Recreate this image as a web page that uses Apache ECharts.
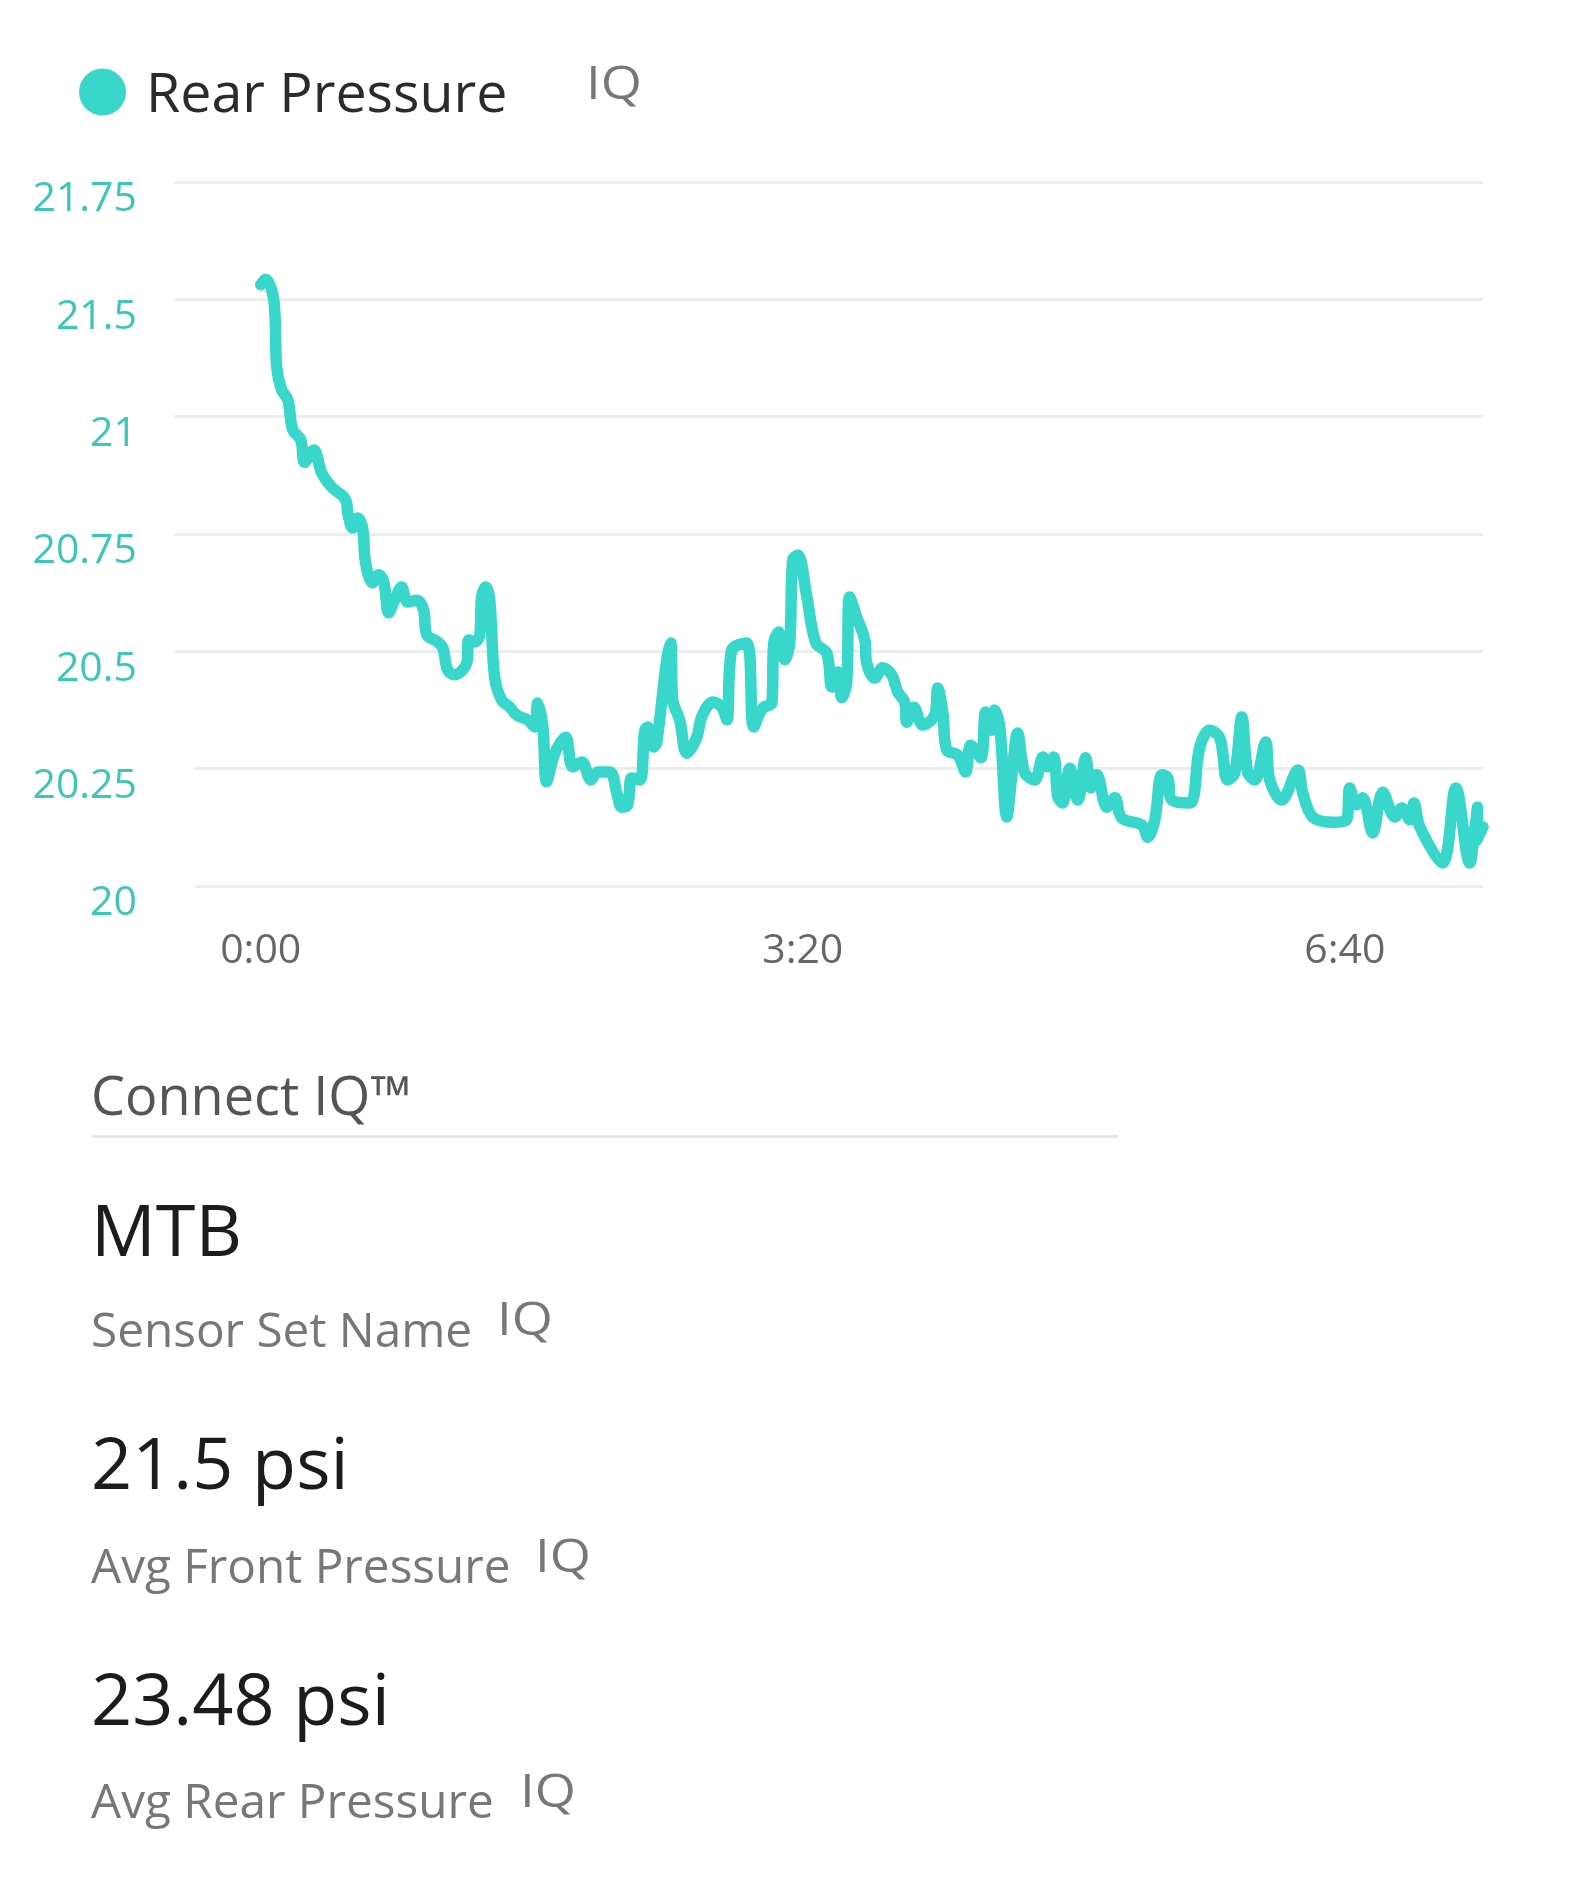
<!DOCTYPE html>
<html>
<head>
<meta charset="utf-8">
<title>Rear Pressure</title>
<script src="https://cdn.jsdelivr.net/npm/echarts@6/dist/echarts.min.js"></script>
<style>
  html, body { margin: 0; padding: 0; background: #fff; }
  #chart { width: 1590px; height: 1886px; }
</style>
</head>
<body>
<div id="chart"></div>
<script>
// printed tick labels, bottom to top. gridlines are evenly spaced even though
// the printed numbers are not, so values below are read on the evenly spaced scale
const yTickLabels = ['20', '20.25', '20.5', '20.75', '21', '21.5', '21.75'];
const xTickSeconds = [0, 200, 400];

const seconds = [
  0, 1.8, 4.8, 5.9, 7.7, 10, 11.8, 14.8, 16.2, 19.6, 22.5, 26.2, 30.6, 31.7, 32.1, 33.9, 35.8, 37.6, 38.7, 41.3,
  43.5, 45.4, 47.2, 49.4, 52, 54.2, 57.6, 60.1, 61.3, 65.3, 67.2, 69, 71.6, 76, 76.8, 79, 80.8, 81.5, 83, 84.5,
  86.3, 88.9, 91.9, 94.5, 98.5, 101.1, 102.2, 104.1, 105.5, 108.5, 112.5, 115.1, 118.5, 121.8, 124.4, 128.8, 131.4, 133.2, 135.4, 136.9,
  139.9, 141.7, 142.8, 145, 146.1, 149.8, 151.3, 152, 154.6, 157.2, 160.9, 162.7, 166.8, 170.1, 172, 173.8, 179.3, 181.9, 185.2, 188.6,
  189.3, 191.1, 193.4, 195.2, 196.3, 198.2, 201.5, 204.8, 208.9, 210.7, 212.9, 214.4, 216.2, 217.3, 219.9, 222.9, 223.6, 226.6, 229.5, 232.8,
  235.1, 237.6, 238.4, 241, 244.3, 248.7, 249.8, 251.7, 253.1, 257.2, 260.1, 262, 265.7, 267.5, 269.7, 270.8, 272.7, 275.3, 277.1, 279.3,
  281.9, 285.6, 288.6, 290.4, 292.6, 294.1, 295.9, 298.5, 301.5, 304.4, 306.3, 308.5, 312.2, 315.1, 317.7, 325.1, 327.3, 329.9, 332.5, 334.7,
  336.2, 342.8, 346.5, 350.2, 353.9, 356.8, 359.4, 362, 364.2, 366.8, 370.8, 372.3, 376.7, 382.7, 384.5, 388.2, 395.6, 400.7, 401.8, 404.4,
  406.6, 410.3, 414, 418.5, 421, 424, 425.5, 427.7, 436, 441, 446.1, 447.9, 449, 448.7, 451
];
const rearPressure = [
  21.281, 21.293, 21.249, 21.106, 21.057, 21.036, 20.972, 20.950, 20.903, 20.929, 20.880, 20.850, 20.829, 20.816, 20.795, 20.763, 20.784, 20.763, 20.688, 20.646,
  20.663, 20.648, 20.582, 20.609, 20.637, 20.605, 20.609, 20.588, 20.535, 20.520, 20.507, 20.460, 20.450, 20.475, 20.524, 20.520, 20.535, 20.616, 20.637, 20.609,
  20.445, 20.396, 20.381, 20.364, 20.354, 20.339, 20.390, 20.339, 20.222, 20.283, 20.317, 20.254, 20.264, 20.226, 20.243, 20.243, 20.198, 20.168, 20.173, 20.230,
  20.226, 20.332, 20.339, 20.296, 20.305, 20.482, 20.518, 20.396, 20.354, 20.283, 20.317, 20.360, 20.392, 20.381, 20.354, 20.503, 20.518, 20.339, 20.379, 20.390,
  20.518, 20.541, 20.482, 20.518, 20.695, 20.705, 20.616, 20.518, 20.496, 20.424, 20.456, 20.401, 20.433, 20.616, 20.573, 20.524, 20.475, 20.443, 20.465, 20.450,
  20.413, 20.392, 20.349, 20.381, 20.343, 20.364, 20.422, 20.369, 20.290, 20.279, 20.243, 20.300, 20.273, 20.371, 20.332, 20.375, 20.339, 20.147, 20.232, 20.326,
  20.241, 20.226, 20.275, 20.254, 20.275, 20.190, 20.177, 20.251, 20.183, 20.273, 20.209, 20.237, 20.168, 20.188, 20.145, 20.130, 20.104, 20.141, 20.237, 20.230,
  20.183, 20.177, 20.296, 20.332, 20.315, 20.226, 20.241, 20.360, 20.241, 20.226, 20.307, 20.226, 20.183, 20.247, 20.198, 20.147, 20.136, 20.141, 20.209, 20.173,
  20.188, 20.113, 20.200, 20.147, 20.166, 20.141, 20.177, 20.126, 20.049, 20.209, 20.049, 20.119, 20.168, 20.098, 20.126
];

const font = '"Open Sans"';
const teal = '#38d6cb';

function text(str, x, y, size, color, weight) {
  return {
    type: 'text',
    x: x,
    y: y,
    silent: true,
    style: {
      text: str,
      fontFamily: font,
      fontSize: size,
      fontWeight: weight || 400,
      fill: color,
      textVerticalAlign: 'bottom'
    }
  };
}

// little "IQ" badge next to each field, wider than the font draws it
function iq(x, y) {
  const t = text('IQ', x, y, 46, '#777');
  t.scaleX = 1.15;
  return t;
}

const chart = echarts.init(document.getElementById('chart'), null, { renderer: 'canvas' });

chart.setOption({
  animation: false,
  backgroundColor: '#fff',
  grid: { left: 174, right: 107, top: 182, height: 704, containLabel: false },
  legend: {
    left: 74,
    top: 63,
    icon: 'circle',
    itemWidth: 47,
    itemHeight: 47,
    selectedMode: false,
    // rich text only to push the name a little below the dot's centre
    formatter: function (name) { return '{a|' + name + '}'; },
    textStyle: {
      rich: {
        a: { fontFamily: font, fontSize: 55.5, color: '#2b2b2b', padding: [8, 0, 0, 15] }
      }
    }
  },
  xAxis: {
    type: 'value',
    min: -32,
    max: 451,
    axisLine: { show: false },
    axisTick: { show: false },
    splitLine: { show: false },
    axisLabel: {
      customValues: xTickSeconds,
      margin: 45,
      fontFamily: font,
      fontSize: 41,
      color: '#666',
      formatter: function (v) {
        const s = v % 60;
        return Math.floor(v / 60) + ':' + (s < 10 ? '0' + s : s);
      }
    }
  },
  yAxis: {
    type: 'value',
    min: 20,
    max: 21.5,
    interval: 0.25,
    axisLine: { show: false },
    axisTick: { show: false },
    splitLine: { lineStyle: { color: '#ebecee', width: 3 } },
    axisLabel: {
      margin: 37,
      verticalAlign: 'top',
      lineHeight: 35,
      fontFamily: font,
      fontSize: 41,
      color: '#3cc6b8',
      formatter: function (v) {
        return yTickLabels[Math.round((v - 20) / 0.25)];
      }
    }
  },
  series: [{
    name: 'Rear Pressure',
    type: 'line',
    data: seconds.map(function (t, i) { return [t, rearPressure[i]]; }),
    showSymbol: false,
    smooth: 0.35,
    clip: false,
    itemStyle: { color: teal },
    lineStyle: { color: teal, width: 11.5, join: 'round', cap: 'round' },
    silent: true
  }],
  graphic: [
    // the two lowest gridlines start a bit further right
    { type: 'rect', z: 1, silent: true, shape: { x: 170, y: 764, width: 25, height: 8 }, style: { fill: '#fff' } },
    { type: 'rect', z: 1, silent: true, shape: { x: 170, y: 882, width: 25, height: 8 }, style: { fill: '#fff' } },

    iq(586, 109),

    text('Connect IQ™', 91, 1127, 54, '#555'),
    { type: 'rect', silent: true, shape: { x: 92, y: 1135, width: 1026, height: 3 }, style: { fill: '#e6e6e8' } },

    text('MTB', 91, 1271, 72, '#1c1c1c'),
    text('Sensor Set Name', 91, 1357, 47.7, '#777'),
    iq(497, 1345),

    text('21.5 psi', 91, 1504, 72, '#1c1c1c'),
    text('Avg Front Pressure', 91, 1593, 47.7, '#777'),
    iq(535, 1582),

    text('23.48 psi', 91, 1740, 72, '#1c1c1c'),
    text('Avg Rear Pressure', 91, 1828, 47.7, '#777'),
    iq(520, 1817)
  ]
});
</script>
</body>
</html>
